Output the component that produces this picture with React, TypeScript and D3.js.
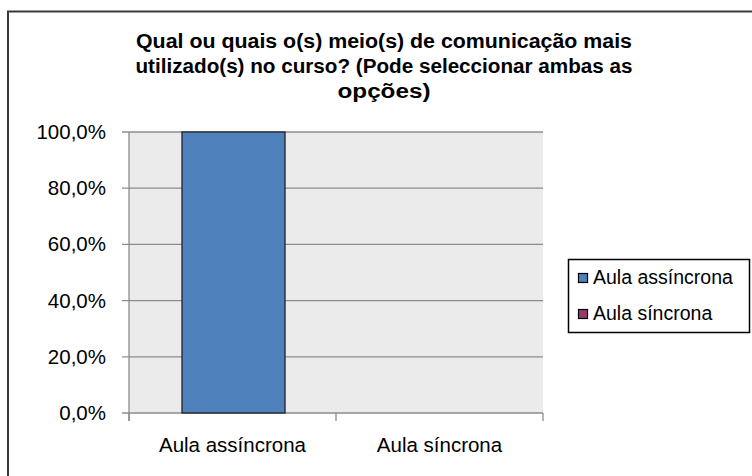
import React from "react";
import * as d3 from "d3";

const categories = ["Aula assíncrona", "Aula síncrona"];
const seriesNames = ["Aula assíncrona", "Aula síncrona"];
const values = [1.0, 0.0];
const colors = ["#4f81bd", "#9b3a6a"];
const yTicks = [0, 0.2, 0.4, 0.6, 0.8, 1.0];
const titleLines = [
  "Qual ou quais o(s) meio(s) de comunicação mais",
  "utilizado(s) no curso? (Pode seleccionar ambas as",
  "opções)",
];
const titleWidths = [496, 497, 93];

export default function App() {
  const W = 752, H = 476;
  const plot = { left: 129, right: 543, top: 132, bottom: 413 };
  const x = d3.scaleBand<string>().domain(categories).range([plot.left, plot.right]).paddingInner(0).paddingOuter(0);
  const y = d3.scaleLinear().domain([0, 1]).range([plot.bottom, plot.top]);
  const fmt = (v: number) => (v * 100).toFixed(1).replace(".", ",") + "%";
  const font = "'Liberation Sans', Arial, sans-serif";
  const bw = 103;
  return (
    <svg width={W} height={H} style={{ position: "absolute", left: 0, top: 0 }} fontFamily={font}>
      <rect x={8} y={11.5} width={800} height={520} fill="#fff" stroke="#3a3a3a" strokeWidth={2} />
      <g fontWeight="bold" fontSize={20} textAnchor="middle" fill="#000">
        {titleLines.map((t, i) => (
          <text key={i} x={384} y={48 + i * 25} textLength={titleWidths[i]} lengthAdjust="spacingAndGlyphs">{t}</text>
        ))}
      </g>
      <rect x={plot.left} y={plot.top} width={plot.right - plot.left} height={plot.bottom - plot.top} fill="#ebebeb" />
      {yTicks.map((t) => (
        <g key={t}>
          <line x1={plot.left - 7} x2={plot.right} y1={y(t)} y2={y(t)} stroke="#8c8c8c" strokeWidth={1.3} />
          <text x={106} y={y(t) + 7} textAnchor="end" fontSize={20.5} fill="#000">{fmt(t)}</text>
        </g>
      ))}
      <line x1={plot.left} x2={plot.left} y1={plot.top} y2={plot.bottom + 8} stroke="#8c8c8c" strokeWidth={1.3} />
      {[0, 1, 2].map((i) => {
        const xx = plot.left + i * x.bandwidth();
        return <line key={i} x1={xx} x2={xx} y1={plot.bottom} y2={plot.bottom + 8} stroke="#8c8c8c" strokeWidth={1.3} />;
      })}
      {categories.map((c, i) => (
        <rect key={c} x={(x(c) as number) + (x.bandwidth() - bw) / 2 + 1} y={y(values[i])}
          width={bw} height={plot.bottom - y(values[i])} fill={colors[i]} stroke="#222" strokeWidth={1.3}
          opacity={values[i] > 0 ? 1 : 0} />
      ))}
      {categories.map((c) => (
        <text key={c} x={(x(c) as number) + x.bandwidth() / 2} y={452} textAnchor="middle" fontSize={20.5} fill="#000">{c}</text>
      ))}
      <rect x={568.5} y={259.5} width={181} height={73} fill="#fff" stroke="#000" strokeWidth={1.5} />
      {seriesNames.map((s, i) => (
        <g key={s}>
          <rect x={578.5} y={273.5 + i * 36} width={9} height={9} fill={colors[i]} stroke="#000" strokeWidth={1.2} />
          <text x={593} y={284 + i * 36} fontSize={19.5} fill="#000">{s}</text>
        </g>
      ))}
    </svg>
  );
}
